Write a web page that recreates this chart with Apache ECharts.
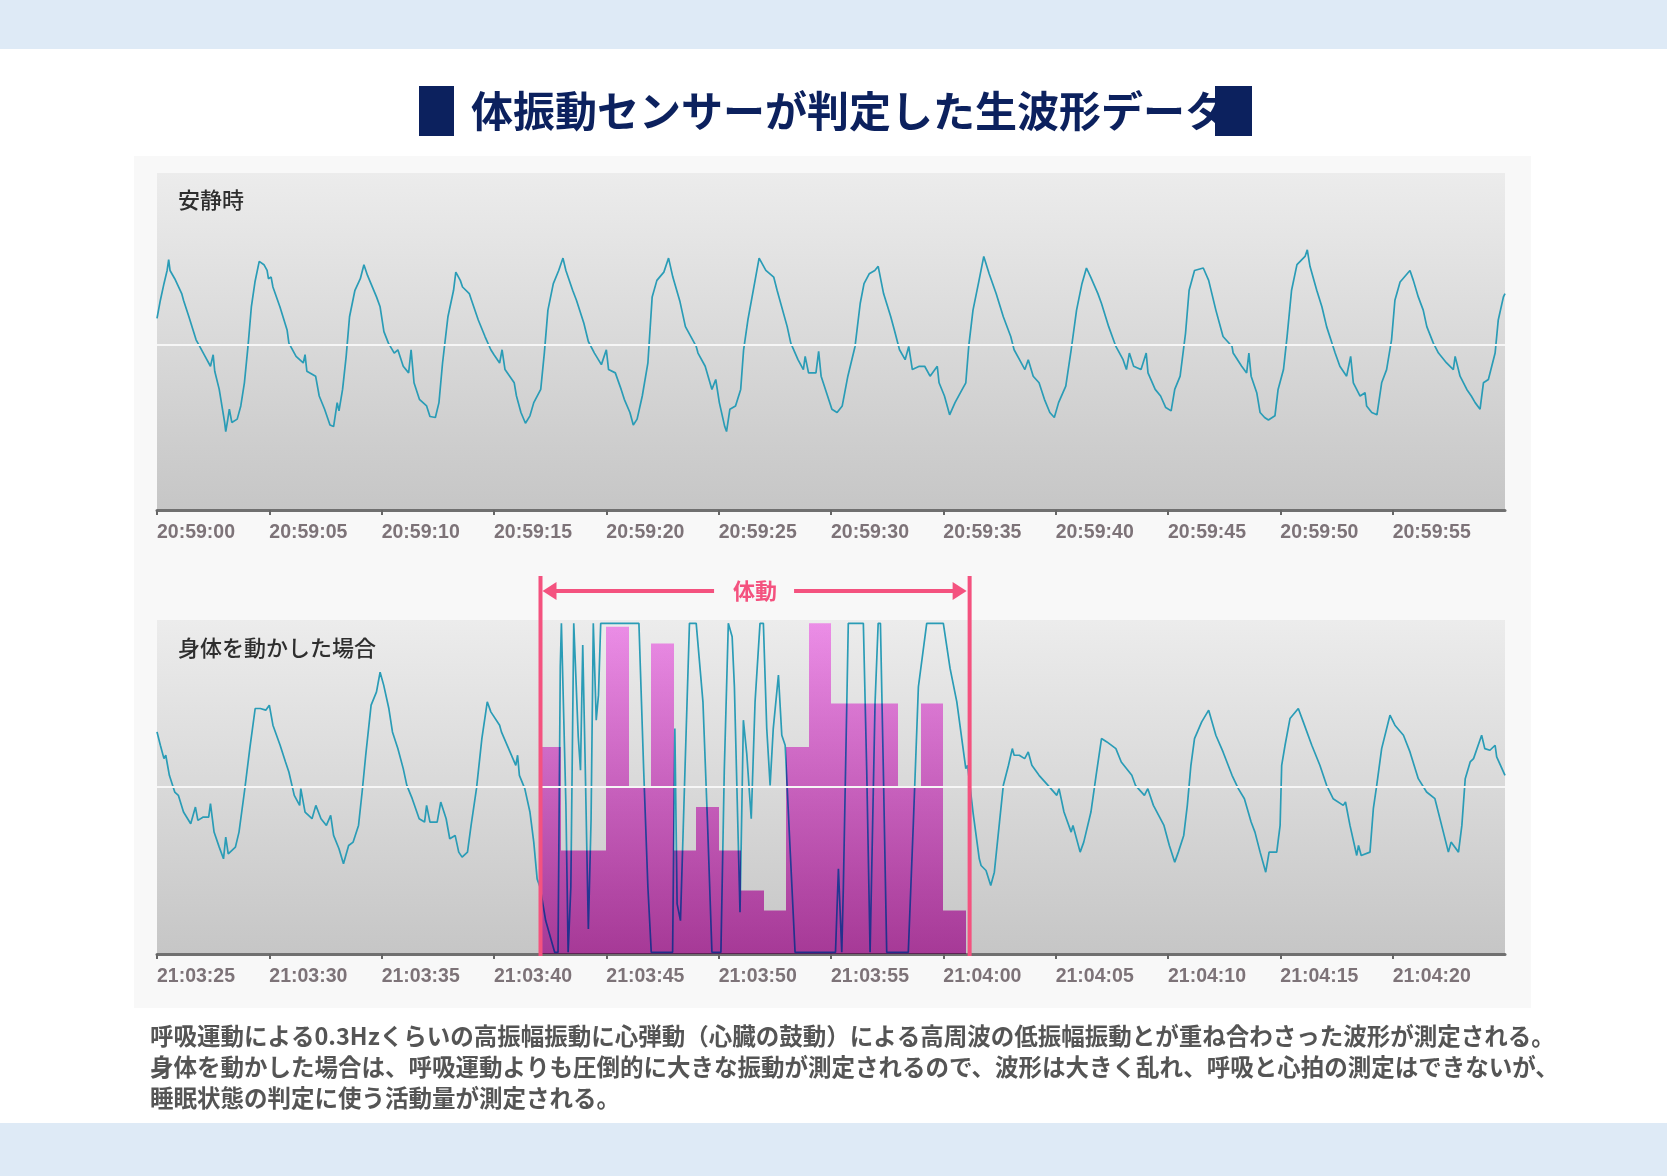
<!DOCTYPE html>
<html>
<head>
<meta charset="utf-8">
<script src="https://cdn.jsdelivr.net/npm/echarts@6/dist/echarts.min.js"></script>
<style>
  html, body { margin: 0; padding: 0; background: #ffffff; }
  #main { width: 1667px; height: 1176px; }
</style>
</head>
<body>
<div id="main"></div>
<script>
// seconds from the first tick label, amplitude (midline = 0)
const tickSeconds = [0, 5, 10, 15, 20, 25, 30, 35, 40, 45, 50, 55];
const restTickLabels = ['20:59:00', '20:59:05', '20:59:10', '20:59:15', '20:59:20', '20:59:25',
  '20:59:30', '20:59:35', '20:59:40', '20:59:45', '20:59:50', '20:59:55'];
const moveTickLabels = ['21:03:25', '21:03:30', '21:03:35', '21:03:40', '21:03:45', '21:03:50',
  '21:03:55', '21:04:00', '21:04:05', '21:04:10', '21:04:15', '21:04:20'];

// 安静時 waveform
const restWave = [
  [0, 16], [0.15, 27], [0.31, 37], [0.45, 45], [0.52, 51.5], [0.58, 45], [0.79, 40], [1.1, 31], [1.18, 27],
  [1.42, 17], [1.74, 3], [1.9, -1], [2.14, -7], [2.38, -13], [2.5, -6], [2.57, -16], [2.77, -27], [3.01, -47],
  [3.06, -52.5], [3.14, -46], [3.22, -39], [3.33, -47], [3.57, -45], [3.73, -37], [3.89, -23], [4.05, -1],
  [4.2, 23], [4.36, 38], [4.55, 50.5], [4.76, 48.5], [4.9, 45], [4.96, 40], [5.08, 41], [5.16, 35], [5.47, 23],
  [5.79, 9], [5.87, 1], [6.19, -7], [6.51, -11], [6.59, -6], [6.67, -16], [7.06, -19], [7.22, -31], [7.46, -39],
  [7.7, -48.5], [7.86, -49.5], [8.02, -35], [8.1, -40], [8.26, -27], [8.42, -7], [8.57, 17], [8.81, 33],
  [9.05, 40], [9.21, 48.5], [9.37, 42], [9.77, 29], [9.93, 23], [10.1, 8], [10.3, 1], [10.56, -5], [10.72, -3],
  [10.96, -13], [11.2, -17], [11.31, -3], [11.44, -23], [11.68, -33], [12.0, -37], [12.15, -43.4], [12.39, -44],
  [12.55, -35], [12.71, -11], [12.95, 17], [13.2, 33], [13.3, 44], [13.5, 39], [13.6, 35], [13.9, 31], [14.0, 27],
  [14.3, 15], [14.6, 5], [14.86, -3], [15.0, -6], [15.25, -11], [15.36, -3], [15.49, -15], [15.9, -23],
  [16.0, -31], [16.2, -41], [16.4, -47.5], [16.6, -43], [16.77, -35], [17.08, -27], [17.24, -5], [17.4, 21],
  [17.64, 37], [17.88, 45], [18.07, 52.5], [18.2, 45], [18.5, 33], [18.67, 27], [19.0, 13], [19.2, 2],
  [19.47, -5], [19.78, -12], [20.0, -3], [20.1, -15], [20.4, -17], [20.66, -27], [20.8, -33], [21.05, -41],
  [21.2, -48.5], [21.37, -45], [21.6, -31], [21.85, -11], [22.04, 29], [22.25, 39], [22.56, 44], [22.77, 52.5],
  [22.96, 41], [23.28, 26], [23.52, 11], [24.0, -1], [24.08, -5], [24.4, -13], [24.7, -27], [24.87, -21],
  [25.03, -35], [25.27, -49.5], [25.35, -52.5], [25.5, -39], [25.75, -37], [25.98, -27], [26.11, -3], [26.3, 15],
  [26.54, 33], [26.8, 52.5], [27.1, 45], [27.45, 41], [27.6, 33], [28.05, 11], [28.21, 1], [28.53, -9],
  [28.77, -15], [28.85, -7], [29.0, -17], [29.33, -17], [29.45, -4], [29.56, -19], [29.8, -29], [30.04, -39],
  [30.27, -41], [30.5, -37], [30.75, -19], [31.07, -1], [31.3, 25], [31.47, 37], [31.7, 43], [31.95, 45],
  [32.1, 47.5], [32.34, 31], [32.66, 17], [32.82, 9], [33.05, -3], [33.3, -9], [33.46, -1], [33.62, -15],
  [33.93, -13], [34.17, -13], [34.41, -19], [34.73, -13], [34.81, -23], [35.05, -31], [35.28, -42.4],
  [35.52, -35], [35.84, -27], [36.0, -23], [36.13, -1], [36.32, 21], [36.56, 37], [36.8, 53.5], [37.04, 43],
  [37.35, 31], [37.67, 17], [38.0, 5], [38.15, -3], [38.39, -9], [38.63, -15], [38.78, -9], [39.0, -19],
  [39.26, -23], [39.5, -33], [39.74, -41], [39.94, -44], [40.13, -35], [40.45, -25], [40.69, -3], [40.93, 21],
  [41.17, 37], [41.37, 46.5], [41.56, 41], [41.88, 31], [42.04, 25], [42.36, 11], [42.68, -1], [43.0, -9],
  [43.15, -15], [43.28, -5], [43.47, -13], [43.8, -15], [44.03, -5], [44.11, -17], [44.43, -27], [44.67, -31],
  [44.9, -38], [45.14, -40], [45.3, -27], [45.54, -19], [45.78, 7], [45.94, 33], [46.18, 45], [46.57, 46.5],
  [46.81, 39], [47.13, 21], [47.45, 5], [47.85, -1], [47.9, -5], [48.28, -13], [48.5, -17], [48.6, -5],
  [48.7, -19], [48.95, -29], [49.1, -41], [49.3, -44], [49.47, -45.5], [49.76, -43], [49.9, -27], [50.14, -15],
  [50.3, 5], [50.5, 33], [50.74, 48.5], [51.1, 53.5], [51.2, 57.5], [51.32, 47.5], [51.62, 33], [51.85, 23],
  [52.06, 11], [52.3, 1], [52.44, -5], [52.65, -13], [52.95, -19], [53.13, -7], [53.25, -23], [53.55, -31],
  [53.77, -29], [53.84, -37], [54.07, -41], [54.3, -42.4], [54.51, -23], [54.73, -15], [54.95, 3], [55.1, 27],
  [55.33, 38], [55.77, 45], [55.92, 39], [56.14, 29], [56.36, 21], [56.52, 11], [56.81, 1], [57.04, -5],
  [57.4, -11], [57.7, -15], [57.78, -7], [58.0, -19], [58.3, -27], [58.5, -31], [58.67, -35], [58.89, -39],
  [59.04, -23], [59.26, -21], [59.56, -5], [59.7, 15], [59.93, 29], [60, 31]
];

// 身体を動かした場合 waveform (saturates at about ±99)
const moveWave = [
  [0, 33], [0.15, 25], [0.31, 17], [0.39, 19], [0.55, 7], [0.79, -3], [0.95, -5], [1.18, -15], [1.5, -22],
  [1.71, -12], [1.82, -20], [2.06, -18], [2.3, -18], [2.38, -10], [2.54, -27], [2.77, -36], [2.96, -43],
  [3.06, -30], [3.17, -40], [3.49, -36], [3.65, -27], [3.89, -3], [4.13, 23], [4.37, 47], [4.6, 47], [4.84, 46],
  [5.0, 49], [5.16, 37], [5.48, 25], [5.72, 15], [5.87, 9], [6.11, -5], [6.35, -11], [6.4, -1], [6.59, -15],
  [6.9, -19], [7.07, -11], [7.3, -19], [7.54, -23], [7.73, -17], [7.86, -29], [8.1, -37], [8.3, -46],
  [8.53, -35], [8.73, -33], [8.97, -23], [9.13, -3], [9.29, 19], [9.53, 49], [9.77, 57], [9.93, 68.7],
  [10.09, 61], [10.32, 47], [10.48, 33], [10.72, 23], [10.96, 11], [11.12, 1], [11.36, -7], [11.67, -19],
  [11.91, -21], [12.0, -11], [12.15, -21], [12.47, -21], [12.63, -9], [12.87, -19], [13.03, -31], [13.27, -29],
  [13.43, -39], [13.58, -42], [13.82, -39], [13.98, -23], [14.22, -1], [14.46, 29], [14.7, 51], [14.86, 45],
  [15.25, 37], [15.33, 33], [15.65, 23], [15.97, 13], [16.05, 19], [16.13, 7], [16.37, -1], [16.6, -15],
  [16.77, -33], [16.92, -55], [17.05, -60], [17.3, -80], [17.7, -99], [17.85, -99], [17.95, 72], [18.0, 98],
  [18.08, 98], [18.2, -10], [18.3, -99], [18.42, -60], [18.55, 98], [18.62, 98], [18.75, 30], [18.85, 10],
  [18.95, 85], [19.05, 20], [19.2, -85], [19.32, -20], [19.42, 98], [19.47, 98], [19.55, 40], [19.65, 55],
  [19.75, 98], [21.45, 98], [21.66, 11], [21.85, -60], [22.0, -99], [22.95, -99], [23.05, 35], [23.15, -70],
  [23.3, -80], [23.5, 10], [23.7, 98], [24.0, 98], [24.3, 51], [24.5, -20], [24.7, -99], [25.1, -99],
  [25.25, 10], [25.43, 98], [25.5, 98], [25.6, 90], [25.7, 60], [25.95, -75], [26.1, 40], [26.25, 20],
  [26.45, -19], [26.62, 51], [26.84, 98], [26.99, 98], [27.14, 35], [27.29, 1], [27.43, 35], [27.66, 67],
  [27.81, 31], [27.96, 25], [28.19, -40], [28.4, -99], [30.2, -99], [30.33, -49], [30.48, -99], [30.55, -60],
  [30.77, 98], [31.44, 98], [31.59, 10], [31.74, -99], [31.82, -99], [31.96, 50], [32.1, 98], [32.2, 98],
  [32.33, 10], [32.48, -99], [33.44, -99], [33.67, -20], [33.89, 60], [34.26, 98], [35.0, 98], [35.3, 71],
  [35.6, 51], [36.0, 11], [36.08, 13], [36.32, -15], [36.6, -43], [36.68, -47], [36.9, -50], [37.11, -59],
  [37.27, -51], [37.5, -21], [37.67, 1], [37.9, 13], [38.07, 23], [38.15, 19], [38.38, 19], [38.62, 17],
  [38.78, 21], [38.94, 13], [39.26, 7], [39.66, 1], [40.05, -5], [40.15, -1], [40.37, -15], [40.69, -27],
  [40.77, -23], [41.09, -39], [41.25, -33], [41.57, -15], [41.8, 7], [42.04, 29], [42.28, 27], [42.68, 23],
  [42.92, 15], [43.39, 7], [43.55, 1], [43.95, -5], [44.1, -1], [44.35, -11], [44.82, -23], [45.06, -35],
  [45.3, -45], [45.46, -39], [45.7, -29], [45.86, -11], [46.02, 13], [46.18, 29], [46.5, 39], [46.81, 46],
  [47.13, 31], [47.45, 21], [47.85, 7], [48.13, -1], [48.4, -7], [48.7, -21], [48.87, -27], [49.1, -39],
  [49.35, -51], [49.5, -39], [49.84, -39], [49.99, -23], [50.06, 13], [50.21, 25], [50.43, 41], [50.8, 47],
  [51.02, 39], [51.4, 25], [51.76, 13], [52.06, 1], [52.35, -7], [52.8, -11], [52.9, -9], [53.1, -23],
  [53.4, -41], [53.48, -35], [53.6, -41], [53.99, -39], [54.14, -13], [54.29, 1], [54.51, 23], [54.88, 43],
  [55.1, 37], [55.48, 31], [55.77, 21], [56.14, 5], [56.51, -3], [56.88, -7], [57.18, -23], [57.48, -39],
  [57.6, -33], [57.93, -39], [58.08, -23], [58.23, 5], [58.45, 15], [58.6, 17], [58.96, 31], [59.1, 23],
  [59.33, 22], [59.56, 25], [59.63, 18], [60, 7]
];

// 1-second activity bins (0-100 of the plot height), starting at 17 s
const activityStart = 17;
const activityLevels = [62, 31, 31, 98, 50, 93, 31, 44, 31, 19, 13, 62, 99, 75, 75, 75, 50, 75, 13];
// 体動 marker range in seconds
const motionStart = 17.07;
const motionEnd = 36.17;

const waveColor = '#2a9cb6';
const pink = '#f4527f';
const barTop = '#ff9afa';
const barBottom = '#d64ac2';
const labelFont = '"Liberation Sans", Arial, sans-serif';
const jpFont = '"Noto Sans CJK JP", "Noto Sans", sans-serif';

const plotBg = {
  type: 'linear', x: 0, y: 0, x2: 0, y2: 1,
  colorStops: [{ offset: 0, color: '#ececec' }, { offset: 1, color: '#c6c6c6' }]
};

function timeAxis(gridIndex, labels) {
  return {
    gridIndex: gridIndex, type: 'value', min: 0, max: 60,
    axisLine: { onZero: false, lineStyle: { color: '#707070', width: 3 } },
    axisTick: { customValues: tickSeconds, length: 5, lineStyle: { color: '#666666', width: 2 } },
    axisLabel: {
      customValues: tickSeconds,
      formatter: (v) => labels[Math.round(v / 5)] || '',
      align: 'left', margin: 13,
      color: '#7d7378', fontSize: 19.5, fontWeight: 'bold', fontFamily: labelFont
    },
    splitLine: { show: false }
  };
}

const midLine = {
  silent: true, symbol: 'none', label: { show: false },
  lineStyle: { color: '#f6f6f6', width: 2, type: 'solid' },
  data: [{ yAxis: 0 }]
};

const chart = echarts.init(document.getElementById('main'));

chart.setOption({
  animation: false,
  backgroundColor: '#ffffff',
  grid: [
    { left: 157, top: 173, width: 1348, height: 337, show: true, backgroundColor: plotBg, borderWidth: 0 },
    { left: 157, top: 620, width: 1348, height: 334, show: true, backgroundColor: plotBg, borderWidth: 0 }
  ],
  xAxis: [timeAxis(0, restTickLabels), timeAxis(1, moveTickLabels)],
  yAxis: [
    { gridIndex: 0, type: 'value', min: -100, max: 104, show: false },
    { gridIndex: 1, type: 'value', min: -100, max: 100, show: false },
    { gridIndex: 1, type: 'value', min: 0, max: 100, show: false }
  ],
  series: [
    {
      type: 'line', xAxisIndex: 0, yAxisIndex: 0, data: restWave,
      showSymbol: false, silent: true, z: 2,
      lineStyle: { color: waveColor, width: 1.7 },
      markLine: midLine
    },
    {
      type: 'line', xAxisIndex: 1, yAxisIndex: 1, data: moveWave,
      showSymbol: false, silent: true, z: 2,
      lineStyle: { color: waveColor, width: 1.7 },
      markLine: midLine
    },
    {
      type: 'custom', xAxisIndex: 1, yAxisIndex: 2, silent: true, z: 3,
      data: activityLevels.map((lv, i) => [activityStart + i, activityStart + i + 1, lv]),
      encode: { x: [0, 1], y: 2 },
      renderItem: function (params, api) {
        const p0 = api.coord([api.value(0), api.value(2)]);
        const p1 = api.coord([api.value(1), 0]);
        const yTop = api.coord([0, 100])[1];
        const x0 = Math.round(p0[0]);
        const x1 = Math.round(p1[0]);
        return {
          type: 'rect',
          shape: { x: x0, y: p0[1], width: x1 - x0, height: p1[1] - p0[1] },
          style: {
            fill: new echarts.graphic.LinearGradient(0, yTop, 0, p1[1], [
              { offset: 0, color: barTop },
              { offset: 1, color: barBottom }
            ], true),
            blend: 'multiply'
          }
        };
      }
    }
  ]
});

const xL = chart.convertToPixel({ xAxisIndex: 1 }, motionStart);
const xR = chart.convertToPixel({ xAxisIndex: 1 }, motionEnd);
const yAxisBottom = chart.convertToPixel({ yAxisIndex: 1 }, -100);
const xMid = (xL + xR) / 2;
const arrowY = 591;

chart.setOption({
  graphic: [
    { type: 'rect', z: -10, shape: { x: 0, y: 0, width: 1667, height: 49 }, style: { fill: '#deeaf6' } },
    { type: 'rect', z: -10, shape: { x: 0, y: 1123, width: 1667, height: 53 }, style: { fill: '#deeaf6' } },
    { type: 'rect', z: -10, shape: { x: 134, y: 156, width: 1397, height: 852 }, style: { fill: '#f8f8f8' } },
    {
      type: 'text', z: 5, left: 471, top: 86,
      style: { text: '体振動センサーが判定した生波形データ', font: 'bold 42px ' + jpFont, fill: '#0c215e', lineHeight: 50 }
    },
    { type: 'rect', z: 6, shape: { x: 419, y: 86, width: 35, height: 50 }, style: { fill: '#0c215e' } },
    { type: 'rect', z: 6, shape: { x: 1215, y: 86, width: 37, height: 50 }, style: { fill: '#0c215e' } },
    {
      type: 'text', z: 5, left: 178, top: 189,
      style: { text: '安静時', font: '500 22px ' + jpFont, fill: '#2e2e2e' }
    },
    {
      type: 'text', z: 5, left: 178, top: 637,
      style: { text: '身体を動かした場合', font: '500 22px ' + jpFont, fill: '#2e2e2e' }
    },
    // 体動 marker
    { type: 'line', z: 10, shape: { x1: xL, y1: 576, x2: xL, y2: yAxisBottom + 2 }, style: { stroke: pink, lineWidth: 4 } },
    { type: 'line', z: 10, shape: { x1: xR, y1: 576, x2: xR, y2: yAxisBottom + 2 }, style: { stroke: pink, lineWidth: 4 } },
    { type: 'line', z: 10, shape: { x1: xL + 10, y1: arrowY, x2: xMid - 41, y2: arrowY }, style: { stroke: pink, lineWidth: 4 } },
    { type: 'line', z: 10, shape: { x1: xMid + 39, y1: arrowY, x2: xR - 10, y2: arrowY }, style: { stroke: pink, lineWidth: 4 } },
    { type: 'polygon', z: 10, shape: { points: [[xL + 2, arrowY], [xL + 16, arrowY - 9], [xL + 16, arrowY + 9]] }, style: { fill: pink } },
    { type: 'polygon', z: 10, shape: { points: [[xR - 3, arrowY], [xR - 17, arrowY - 9], [xR - 17, arrowY + 9]] }, style: { fill: pink } },
    {
      type: 'text', z: 10, x: xMid, y: arrowY,
      style: { text: '体動', font: 'bold 22px ' + jpFont, fill: pink, align: 'center', verticalAlign: 'middle' }
    },
    {
      type: 'text', z: 5, left: 150, top: 1021,
      style: {
        text: '呼吸運動による0.3Hzくらいの高振幅振動に心弾動（心臓の鼓動）による高周波の低振幅振動とが重ね合わさった波形が測定される。\n' +
          '身体を動かした場合は、呼吸運動よりも圧倒的に大きな振動が測定されるので、波形は大きく乱れ、呼吸と心拍の測定はできないが、\n' +
          '睡眠状態の判定に使う活動量が測定される。',
        font: 'bold 23.5px ' + jpFont, fill: '#555555', lineHeight: 31
      }
    }
  ]
});

// the activity bars are multiplied over the waveform, so the trace shows through them
const zr = chart.getZr();
zr.storage.getDisplayList(true).forEach(function (el) {
  const fill = el.style && el.style.fill;
  if (fill && fill.colorStops && fill.colorStops[0].color === barTop) {
    el.style.blend = 'multiply';
    el.markRedraw();
  }
});
zr.refreshImmediately();
</script>
</body>
</html>
